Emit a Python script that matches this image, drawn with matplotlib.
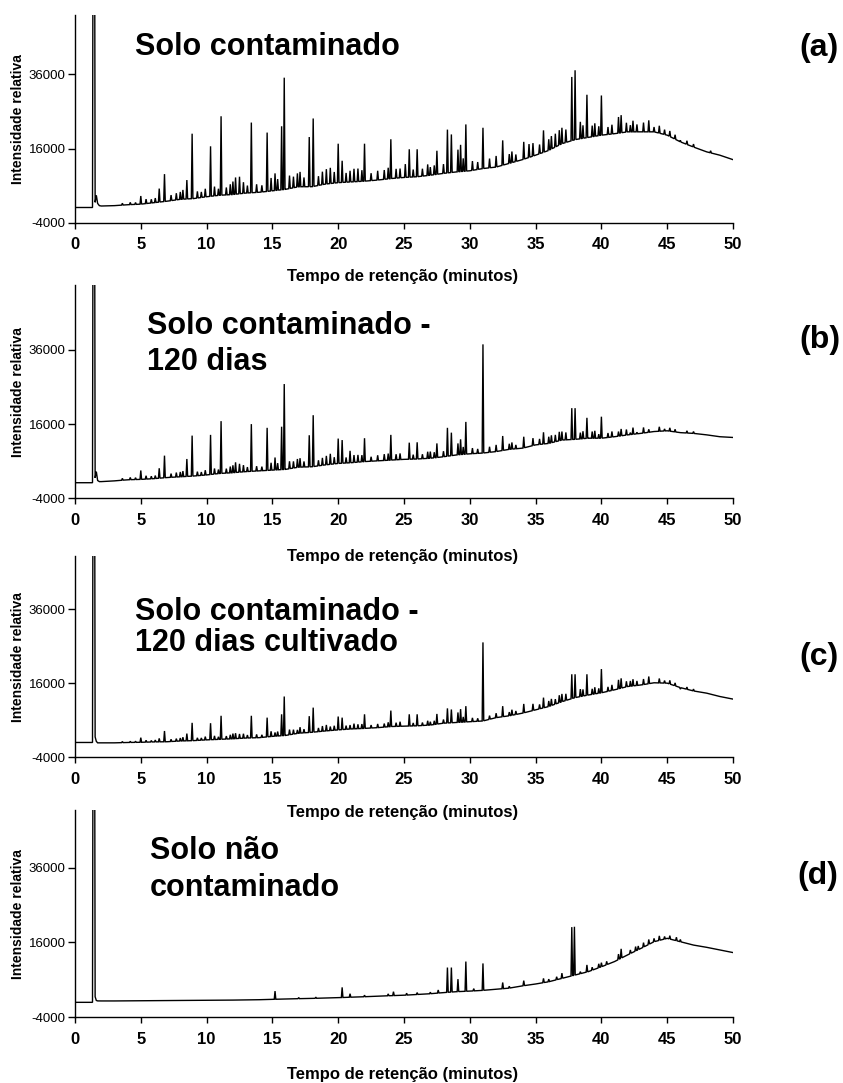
import numpy as np
import matplotlib
matplotlib.use("Agg")
import matplotlib.pyplot as plt

plt.rcParams['font.family'] = ['Liberation Sans', 'DejaVu Sans']

# ---------------- data ----------------
x_ticks = [0, 5, 10, 15, 20, 25, 30, 35, 40, 45, 50]
y_ticks = [-4000, 16000, 36000]
panel_titles = [["Solo contaminado"],
                ["Solo contaminado -", "120 dias"],
                ["Solo contaminado -", "120 dias cultivado"],
                ["Solo não", "contaminado"]]
panel_tags = ["(a)", "(b)", "(c)", "(d)"]
x_label = "Tempo de retenção (minutos)"
y_label = "Intensidade relativa"

# solvent front segment (min) and baseline sampling times (min)
solvent_t = [0.0, 1.33, 1.36, 1.50, 1.53, 1.62, 1.72, 1.85]
base_t = list(range(2, 51))

a_solv = [100, 100, 60000, 60000, 1500, 3400, 1200, 600]
b_solv = [200, 200, 60000, 60000, 1500, 3200, 800, 500]
c_solv = [0, 0, 60000, 60000, 1500, 300, -100, -100]
d_solv = [0, 0, 60000, 60000, 1500, 500, 380, 370]

a_base = [500, 600, 850, 1000, 1400, 1800, 2300, 2500, 3000, 3400, 3600, 4000, 4200,
          4600, 5000, 5700, 5700, 6400, 6800, 7000, 7200, 7500, 7900, 8200, 8400, 8800,
          9300, 9700, 10000, 10600, 11000, 12000, 13000, 14200, 15500, 17300, 18400,
          19000, 19600, 20000, 20500, 20500, 20500, 19600, 17800, 16400, 15100, 14200, 13000]
b_base = [500, 700, 1000, 1100, 1300, 1600, 1800, 2000, 2300, 2700, 2900, 3200, 3400,
          3600, 3800, 4400, 4500, 5000, 5400, 5600, 5900, 6100, 6300, 6500, 6600, 6800,
          7200, 7700, 8000, 8200, 8600, 9200, 9500, 10400, 10800, 11700, 11900, 12200,
          12200, 12600, 13100, 13500, 14000, 14200, 13700, 13500, 13100, 12600, 12400]
c_base = [-100, -100, 0, 50, 150, 200, 400, 500, 700, 850, 1000, 1200, 1300, 1650,
          1900, 2500, 2750, 3100, 3400, 3650, 3800, 4000, 4300, 4400, 4500, 4700, 5200,
          5400, 5600, 5800, 6700, 7200, 7900, 8800, 9700, 11000, 12100, 12800, 13400,
          14200, 15100, 15500, 16100, 16000, 14800, 13900, 13300, 12400, 11700]
d_base = [370, 370, 400, 450, 460, 480, 500, 520, 540, 570, 600, 650, 700, 800, 900,
          980, 1050, 1150, 1250, 1380, 1500, 1650, 1780, 1900, 2100, 2300, 2600, 2850,
          3000, 3200, 3500, 3800, 4400, 4900, 5500, 6400, 7300, 8200, 9500, 10900, 12700,
          14400, 16200, 17100, 16200, 15300, 14700, 14000, 13300]

# major peaks: retention time (min) and apex intensity
a_peak_t = [5.0, 6.4, 6.8, 8.5, 8.9, 10.3, 11.1, 12.2, 12.5, 13.4, 14.6, 15.2, 15.7, 15.9,
            16.9, 17.8, 18.1, 19.4, 20.0, 20.3, 20.9, 21.5, 22.0, 23.5, 24.0, 24.7, 25.1,
            25.4, 26.0, 27.0, 27.5, 28.3, 28.6, 29.1, 29.3, 29.7, 31.0, 32.5, 33.5, 34.1,
            34.5, 35.6, 36.5, 37.0, 37.75, 38.0, 38.4, 38.9, 39.8, 40.0, 41.3, 41.5, 42.2,
            42.7, 43.6, 44.0, 44.8, 46.0, 48.3]
a_peak_v = [3200, 5200, 9100, 7500, 20000, 16600, 24700, 8200, 8400, 23000, 20300, 9300,
            22000, 35100, 9300, 19100, 24100, 10800, 17300, 12700, 10000, 10600, 17300,
            10200, 18500, 10600, 11800, 15800, 15800, 11000, 15400, 21100, 19800, 15700,
            17000, 22500, 21600, 18200, 14400, 17800, 17200, 20900, 20000, 21600, 35300,
            37100, 23200, 30500, 22000, 30300, 24500, 25000, 22300, 22500, 23600, 21800,
            21100, 18200, 15400]
b_peak_t = [5.0, 6.4, 6.8, 8.5, 8.9, 10.3, 11.1, 12.2, 12.5, 13.4, 14.6, 15.2, 15.7, 15.9,
            16.9, 17.8, 18.1, 19.4, 20.0, 20.3, 20.9, 21.5, 22.0, 23.5, 24.0, 24.7, 25.4,
            26.0, 27.0, 27.5, 28.3, 28.6, 29.1, 29.3, 29.7, 31.0, 32.5, 33.5, 34.1, 35.6,
            36.5, 37.0, 37.75, 38.0, 38.4, 38.9, 39.8, 40.0, 41.3, 41.5, 42.2, 42.7, 43.6, 44.8]
b_peak_v = [3500, 4100, 7500, 6600, 12900, 13100, 16800, 5700, 5300, 16000, 15000, 7000,
            15300, 26800, 6600, 13000, 18400, 8000, 12100, 11700, 8800, 7700, 12200, 7900,
            13100, 8100, 11000, 11100, 8600, 10800, 15000, 13700, 10800, 11900, 16600, 37500,
            12800, 10400, 12600, 13800, 13100, 14000, 20300, 20300, 13700, 17700, 13300,
            18000, 14000, 14700, 13700, 13800, 14600, 14700]
c_peak_t = [5.0, 6.4, 6.8, 8.5, 8.9, 10.3, 11.1, 12.2, 12.5, 13.4, 14.6, 15.2, 15.7, 15.9,
            16.9, 17.8, 18.1, 19.4, 20.0, 20.3, 20.9, 21.5, 22.0, 23.5, 24.0, 24.7, 25.4,
            26.0, 27.0, 27.5, 28.3, 28.6, 29.1, 29.3, 29.7, 31.0, 32.5, 33.5, 34.1, 35.6,
            36.5, 37.0, 37.75, 38.0, 38.4, 38.9, 39.8, 40.0, 41.3, 41.5, 42.2, 42.7, 43.6,
            44.8, 46.0, 48.3]
c_peak_v = [1300, 1100, 3100, 2400, 5300, 5200, 7200, 2500, 2300, 7200, 6700, 2700, 7600,
            12400, 3400, 7100, 9400, 4300, 7000, 6700, 4700, 4900, 7600, 5100, 8600, 5600,
            7600, 7600, 5600, 7700, 9200, 8900, 8100, 9000, 9800, 27000, 9800, 8500, 10400,
            12100, 11700, 13100, 18400, 18400, 14400, 18400, 14600, 19800, 16900, 17300,
            16600, 16600, 17800, 16700, 14400, 13000]
d_peak_t = [15.2, 20.3, 20.9, 24.2, 27.6, 28.3, 28.6, 29.1, 29.7, 31.0, 32.5, 34.1, 35.6,
            37.0, 37.75, 37.95, 38.4, 38.9, 39.8, 40.0, 41.3, 41.5, 42.2, 42.6, 43.6, 44.0,
            44.8, 45.7]
d_peak_v = [3000, 4000, 2300, 2850, 3300, 9300, 9300, 6200, 10900, 10400, 5300, 5800, 6400,
            7800, 20100, 20200, 8200, 10000, 10300, 10600, 12900, 14300, 14000, 14900, 16800,
            17100, 17600, 17400]

# minor peaks: retention time (min) and rise above baseline
minor_t = [3.6, 4.2, 4.6, 5.4, 5.8, 6.1, 7.3, 7.7, 8.0, 8.2, 9.3, 9.6, 9.9, 10.6, 10.9,
           11.5, 11.8, 12.0, 12.8, 13.1, 13.8, 14.2, 14.9, 15.4, 16.3, 16.6, 17.1, 17.4,
           18.5, 18.8, 19.1, 19.7, 20.6, 21.2, 21.8, 22.5, 23.0, 23.8, 24.4, 25.7, 26.4,
           26.8, 27.3, 28.0, 29.5, 30.2, 30.6, 31.5, 32.0, 33.0, 33.2, 34.8, 35.3, 36.0,
           36.2, 36.8, 37.3, 38.6, 39.3, 39.5, 40.5, 40.8, 41.9, 42.4, 43.2, 44.4, 45.2,
           45.6, 46.5, 47.0]
a_minor_h = [500, 600, 500, 1200, 1000, 1200, 1500, 1800, 2000, 2500,
             1800, 1500, 2200, 2500, 1800, 2000, 2800, 3500, 3000, 2000,
             2200, 1800, 3500, 3000, 3500, 3000, 4000, 2500, 2500, 3500,
             4000, 3000, 2500, 3500, 3000, 2000, 2500, 3000, 2500, 2000,
             2000, 3000, 2500, 2500, 3500, 2500, 2000, 2500, 3000, 2500,
             3000, 3500, 2500, 3000, 3500, 4000, 3500, 3500, 3000, 3500,
             2000, 2500, 2500, 3000, 2500, 2000, 1500, 1200, 1000, 800]
b_minor_h = [500, 600, 500, 900, 700, 800, 1000, 1200, 1300, 1500,
             1100, 900, 1300, 1500, 1100, 1200, 1700, 2000, 1800, 1200,
             1300, 1100, 2000, 1800, 2000, 1800, 2400, 1500, 1500, 2000,
             2400, 1800, 1500, 2000, 1800, 1200, 1500, 1800, 1500, 1200,
             1200, 1800, 1500, 1500, 2000, 1500, 1200, 1500, 1800, 1500,
             1800, 2000, 1500, 1800, 2000, 2400, 2000, 2000, 1800, 2000,
             1200, 1500, 1500, 1800, 1500, 1200, 900, 700, 600, 500]
c_minor_h = [300, 300, 300, 500, 400, 500, 600, 700, 800, 1000,
             700, 600, 900, 1000, 700, 800, 1100, 1400, 1200, 800,
             900, 700, 1400, 1200, 1400, 1200, 1600, 1000, 1000, 1400,
             1600, 1200, 1000, 1400, 1200, 800, 1000, 1200, 1000, 800,
             800, 1200, 1000, 1000, 1400, 1000, 800, 1000, 1200, 1000,
             1500, 1800, 1200, 1500, 1800, 2000, 1800, 1800, 1500, 1800,
             1200, 1500, 1500, 1800, 1500, 1200, 1000, 800, 600, 500]
d_minor_t = [17.0, 18.3, 22.0, 23.8, 25.2, 26.0, 27.0, 30.3, 33.0, 36.0, 36.6, 39.3,
             40.4, 42.8, 43.2, 44.4, 45.2, 46.0]
d_minor_h = [300, 300, 400, 500, 500, 500, 400, 600, 500, 700, 800, 800, 900, 1000,
             1200, 1200, 900, 600]

# ---------------- layout ----------------
W, H = 843, 1083
fig = plt.figure(figsize=(W / 100, H / 100), dpi=100)

def fx(x):
    return x / W

def fy(y):
    return 1 - y / H

# (bottom_px, top_px, y_top_value)
panels = [
    (222.7, 15.0, 52000),
    (498.3, 285.0, 53500),
    (757.3, 556.0, 50300),
    (1017.3, 810.0, 51400),
]
series = [
    (a_solv, a_base, a_peak_t, a_peak_v, minor_t, a_minor_h),
    (b_solv, b_base, b_peak_t, b_peak_v, minor_t, b_minor_h),
    (c_solv, c_base, c_peak_t, c_peak_v, minor_t, c_minor_h),
    (d_solv, d_base, d_peak_t, d_peak_v, d_minor_t, d_minor_h),
]
title_pos = [
    [(135, 55)],
    [(147, 334), (147, 370)],
    [(135, 620), (135, 651)],
    [(150, 859), (150, 896)],
]
tag_pos = [(819, 48), (820, 340), (819, 657), (818, 876)]
xlabel_y = [277, 557, 813, 1075]
HW = 0.06  # half-width of a drawn peak, minutes


def build_trace(solv, base, pk_t, pk_v, mn_t, mn_h):
    """Join baseline samples and peak apexes into one chromatogram line."""
    bt = np.array(solvent_t + base_t, dtype=float)
    bv = np.array(solv + base, dtype=float)
    apex_t = np.concatenate([np.array(pk_t, float), np.array(mn_t, float)])
    apex_v = np.concatenate([np.array(pk_v, float),
                             np.interp(mn_t, bt, bv) + np.array(mn_h, float)])
    keep = np.ones(len(bt), bool)
    for t in apex_t:
        keep &= ~((bt > t - HW) & (bt < t + HW))
    xs = list(bt[keep])
    ys = list(bv[keep])
    for t, v in zip(apex_t, apex_v):
        xs += [t - HW, t, t + HW]
        ys += [np.interp(t - HW, bt, bv), v, np.interp(t + HW, bt, bv)]
    order = np.argsort(xs, kind='stable')
    return np.array(xs)[order], np.array(ys)[order]


x0, x1 = 75, 733
for i, ((pb, pt, ytop), data) in enumerate(zip(panels, series)):
    ax = fig.add_axes([fx(x0), fy(pb), (x1 - x0) / W, (pb - pt) / H])
    tx_, ty_ = build_trace(*data)
    ax.plot(tx_, ty_, color='black', lw=1.0, solid_joinstyle='miter')

    ax.set_xlim(0, 50)
    ax.set_ylim(-4000, ytop)
    ax.set_xticks(x_ticks)
    ax.set_yticks(y_ticks)
    ax.set_xticklabels([str(x) for x in x_ticks], fontsize=12, fontweight='bold')
    ax.set_yticklabels([str(y) for y in y_ticks], fontsize=9.5)
    ax.tick_params(axis='x', direction='out', length=4.5, width=1, pad=6, colors='black')
    ax.tick_params(axis='y', direction='out', length=4.8, width=1, pad=2, colors='black')
    for s in ('top', 'right'):
        ax.spines[s].set_visible(False)
    for s in ('left', 'bottom'):
        ax.spines[s].set_linewidth(1)
        ax.spines[s].set_color('black')

    for line, (tx, ty) in zip(panel_titles[i], title_pos[i]):
        fig.text(fx(tx), fy(ty), line, fontsize=22, fontweight='bold',
                 ha='left', va='baseline')
    fig.text(fx(tag_pos[i][0]), fy(tag_pos[i][1]), panel_tags[i], fontsize=23,
             fontweight='bold', ha='center', va='center')
    fig.text(fx(402.5), fy(xlabel_y[i]), x_label, fontsize=12, fontweight='bold',
             ha='center', va='center')
    fig.text(fx(18), fy((pb + pt) / 2), y_label, fontsize=10, fontweight='bold',
             ha='center', va='center', rotation=90)

fig.savefig("out.png", dpi=100)
